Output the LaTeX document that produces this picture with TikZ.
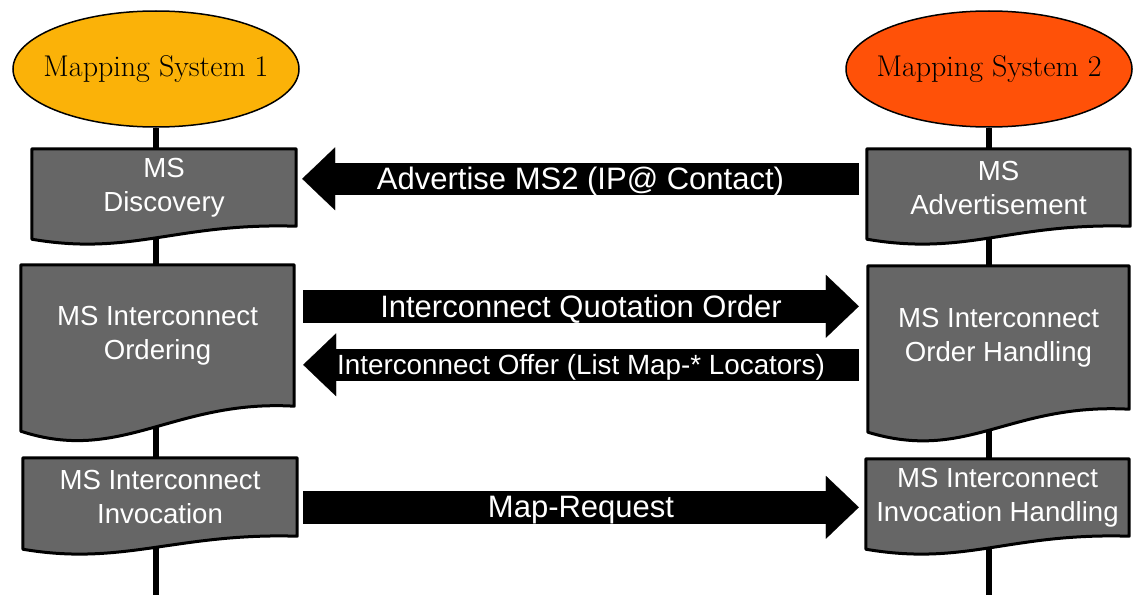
\documentclass[tikz,border=0pt]{standalone}
\usepackage{fontspec}
\setsansfont{Liberation Sans}
\usetikzlibrary{shapes.geometric, arrows.meta, backgrounds}
\definecolor{msyellow}{RGB}{251,178,8}
\definecolor{msred}{RGB}{255,81,8}
\definecolor{boxgray}{RGB}{102,102,102}
\tikzset{
  mapsys/.style={
    ellipse, draw=black, line width=1.5pt,
    minimum width=286pt, minimum height=116pt, inner sep=0pt,
    font=\fontsize{30}{32}\selectfont
  },
  docbox/.style={
    rectangle, inner sep=0pt, align=center,
    text=white, font=\sffamily\fontsize{27.6}{34}\selectfont
  },
  docshape/.style={draw=black, fill=boxgray, line width=3pt, line join=round},
  lifeline/.style={line width=6.5pt, color=black},
  blockarrow/.style={
    line width=32.5pt, color=black,
    -{Triangle[length=33pt, width=63pt, line width=0.1pt]}
  },
  arrowtext/.style={text=white, inner sep=0pt, yshift=-2.5pt, font=\sffamily\fontsize{31}{31}\selectfont},
}

\begin{document}
\begin{tikzpicture}[x=1pt, y=-1pt]
  \useasboundingbox (0,0) rectangle (1134,594);

  % the two mapping systems
  \node (ms1) [mapsys, fill=msyellow] at (156,69)  {\makebox[0pt]{Mapping System 1}};
  \node (ms2) [mapsys, fill=msred]    at (989,69)  {\makebox[0pt]{Mapping System 2}};
  \coordinate (bot) at (0,600);

  % steps of MS1 and MS2
  \node (disc) [docbox, minimum width=264pt, minimum height=77pt]  at (164,187.5)   {MS\\Discovery};
  \node (ordr) [docbox, minimum width=273pt, minimum height=141pt] at (157.5,335.5) {MS Interconnect\\Ordering};
  \node (invk) [docbox, minimum width=274pt, minimum height=78pt]  at (160,497)     {MS Interconnect\\Invocation};
  \node (advt) [docbox, minimum width=263pt, minimum height=77pt]  at (998.5,187.5) {MS\\Advertisement};
  \node (ordh) [docbox, minimum width=261pt, minimum height=143pt] at (998.5,337.5) {MS Interconnect\\Order Handling};
  \node (invh) [docbox, minimum width=263pt, minimum height=77pt]  at (997.5,497.5) {MS Interconnect\\Invocation Handling};

  \begin{scope}[on background layer]
    \draw [lifeline] (ms1.south) -- (ms1.south |- bot);
    \draw [lifeline] (ms2.south) -- (ms2.south |- bot);
    \foreach \n/\r in {disc/13, ordr/25, invk/13, advt/13, ordh/23, invh/13}
      \draw [docshape] (\n.north west) -- (\n.north east) -- (\n.south east)
        .. controls ([shift={(-120,-0.28*\r)}]\n.south east) and ([shift={(100,2.32*\r)}]\n.south west)
        .. ([shift={(0,\r)}]\n.south west) -- cycle;
  \end{scope}

  % messages
  \draw [blockarrow] ([shift={(-8,30)}]advt.north west) -- ([shift={(6,30)}]disc.north east)
    node [arrowtext, midway] {Advertise MS2 (IP@ Contact)};
  \draw [blockarrow] ([shift={(9,41.5)}]ordr.north east) -- ([shift={(-9,40.5)}]ordh.north west)
    node [arrowtext, midway] {Interconnect Quotation Order};
  \draw [blockarrow] ([shift={(-9,99)}]ordh.north west) -- ([shift={(9,100)}]ordr.north east)
    node [arrowtext, midway, font=\sffamily\fontsize{27.8}{28}\selectfont] {Interconnect Offer (List Map-* Locators)};
  \draw [blockarrow] ([shift={(6,49.5)}]invk.north east) -- ([shift={(-7,48.5)}]invh.north west)
    node [arrowtext, midway] {Map-Request};
\end{tikzpicture}
\end{document}
